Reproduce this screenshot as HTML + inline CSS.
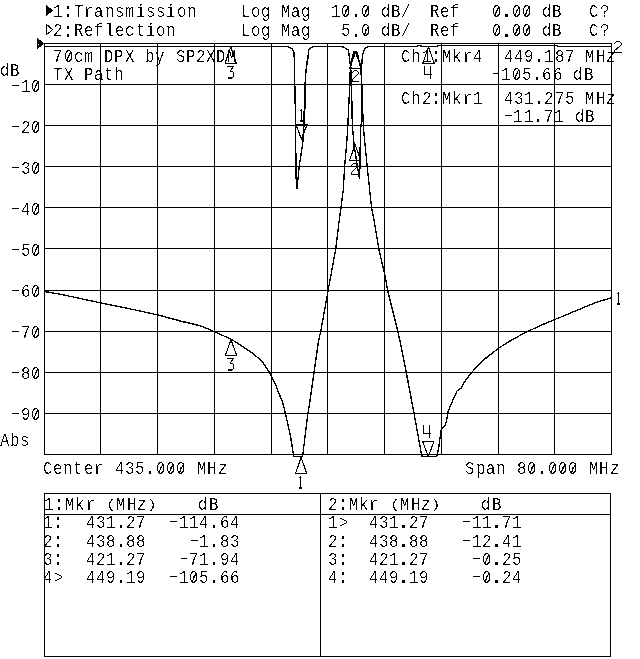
<!DOCTYPE html>
<html><head><meta charset="utf-8"><title>Network analyzer plot</title>
<style>
html,body{margin:0;padding:0;background:#fff;}
body{width:640px;height:659px;overflow:hidden;}
svg{display:block;font-family:"Liberation Mono",monospace;fill:#000;}

.ln{stroke:#000;stroke-width:1;fill:none;shape-rendering:crispEdges;}
.tl{stroke:#000;stroke-width:1.1;fill:none;stroke-linejoin:round;}
.tr{stroke-width:1.35;}
.tf{fill:#000;stroke:none;}
</style></head><body>
<svg width="640" height="659" viewBox="0 0 640 659">
<rect width="640" height="659" fill="#fff"/>
<path class="ln" d="M44.5 43 V455 M100.5 43 V455 M157.5 43 V455 M214.5 43 V455 M271.5 43 V455 M327.5 43 V455 M384.5 43 V455 M441.5 43 V455 M498.5 43 V455 M554.5 43 V455 M611.5 43 V455 M44 43.5 H612 M44 84.5 H612 M44 125.5 H612 M44 166.5 H612 M44 207.5 H612 M44 248.5 H612 M44 290.5 H612 M44 331.5 H612 M44 372.5 H612 M44 413.5 H612 M44 454.5 H612"/>
<path class="ln" d="M44.5 493.5 H610.5 V656.5 H44.5 Z M44.5 514.5 H610.5 M320.5 493.5 V656.5"/>
<defs><filter id="bw" x="0" y="0" width="640" height="659" filterUnits="userSpaceOnUse" color-interpolation-filters="sRGB"><feComponentTransfer><feFuncA type="discrete" tableValues="0 0 0 0 0 0 0 0 0 0 0 0 1 1 1 1 1 1 1 1"/></feComponentTransfer></filter><filter id="bw2" x="0" y="0" width="640" height="659" filterUnits="userSpaceOnUse" color-interpolation-filters="sRGB"><feComponentTransfer><feFuncA type="discrete" tableValues="0 1"/></feComponentTransfer></filter></defs>
<g filter="url(#bw)">
<text xml:space="preserve" transform="translate(0,17.00) scale(0.880,1)" font-size="17.80" x="60.227">1</text>
<text transform="translate(0,17.00) scale(1.250,1.150)" font-size="17.80" x="48.99">:</text>
<text xml:space="preserve" transform="translate(0,17.00) scale(0.880,1)" font-size="17.80" x="84.091 95.455 106.818 119.318 130.682 142.045 154.545 165.909 177.273 188.636 201.136 212.500">Transmission</text>
<text xml:space="preserve" transform="translate(0,36.00) scale(0.880,1)" font-size="17.80" x="60.227">2</text>
<text transform="translate(0,36.50) scale(1.250,1.150)" font-size="17.80" x="48.99">:</text>
<text xml:space="preserve" transform="translate(0,36.00) scale(0.880,1)" font-size="17.80" x="84.091 95.455 106.818 119.318 130.682 142.045 154.545 165.909 177.273 188.636">Reflection</text>
<text xml:space="preserve" transform="translate(0,17.00) scale(0.880,1)" font-size="17.80" x="273.864 285.227 296.591 307.955 319.318 330.682 342.045 353.409 364.773 376.136 387.500">Log Mag  10</text>
<text transform="translate(0,17.00) scale(1.250,1.150)" font-size="17.80" x="279.23">.</text>
<text xml:space="preserve" transform="translate(0,17.00) scale(0.880,1)" font-size="17.80" x="410.227 421.591 432.955 444.318 455.682">0 dB/</text>
<text xml:space="preserve" transform="translate(0,36.00) scale(0.880,1)" font-size="17.80" x="273.864 285.227 296.591 307.955 319.318 330.682 342.045 353.409 364.773 376.136 387.500">Log Mag   5</text>
<text transform="translate(0,36.50) scale(1.250,1.150)" font-size="17.80" x="279.23">.</text>
<text xml:space="preserve" transform="translate(0,36.00) scale(0.880,1)" font-size="17.80" x="410.227 421.591 432.955 444.318 455.682">0 dB/</text>
<text xml:space="preserve" transform="translate(0,17.00) scale(0.880,1)" font-size="17.80" x="488.636 500.000 511.364">Ref</text>
<text xml:space="preserve" transform="translate(0,36.00) scale(0.880,1)" font-size="17.80" x="488.636 500.000 511.364">Ref</text>
<text xml:space="preserve" transform="translate(0,17.00) scale(0.880,1)" font-size="17.80" x="559.091">0</text>
<text transform="translate(0,17.00) scale(1.250,1.150)" font-size="17.80" x="399.71">.</text>
<text xml:space="preserve" transform="translate(0,17.00) scale(0.880,1)" font-size="17.80" x="581.818 593.182 604.545 615.909 627.273">00 dB</text>
<text xml:space="preserve" transform="translate(0,36.00) scale(0.880,1)" font-size="17.80" x="559.091">0</text>
<text transform="translate(0,36.50) scale(1.250,1.150)" font-size="17.80" x="399.71">.</text>
<text xml:space="preserve" transform="translate(0,36.00) scale(0.880,1)" font-size="17.80" x="581.818 593.182 604.545 615.909 627.273">00 dB</text>
<text xml:space="preserve" transform="translate(0,17.00) scale(0.880,1)" font-size="17.80" x="669.318 681.818">C?</text>
<text xml:space="preserve" transform="translate(0,36.00) scale(0.880,1)" font-size="17.80" x="669.318 681.818">C?</text>
<text xml:space="preserve" transform="translate(0,62.00) scale(0.880,1)" font-size="17.80" x="60.227 72.727 84.091 95.455 106.818 118.182 129.545 142.045 153.409 164.773 176.136 188.636 200.000 211.364 222.727 234.091 245.455 257.955">70cm DPX by SP2XDM</text>
<text xml:space="preserve" transform="translate(0,80.00) scale(0.880,1)" font-size="17.80" x="60.227 72.727 84.091 95.455 106.818 118.182 129.545">TX Path</text>
<text xml:space="preserve" transform="translate(0,62.00) scale(0.880,1)" font-size="17.80" x="455.682 467.045 479.545">Ch1</text>
<text transform="translate(0,62.20) scale(1.250,1.150)" font-size="17.80" x="343.63">:</text>
<text xml:space="preserve" transform="translate(0,62.00) scale(0.880,1)" font-size="17.80" x="502.273 513.636 526.136 537.500">Mkr4</text>
<text xml:space="preserve" transform="translate(0,62.00) scale(0.880,1)" font-size="17.80" x="572.727 584.091 595.455">449</text>
<text transform="translate(0,62.20) scale(1.250,1.150)" font-size="17.80" x="425.63">.</text>
<text xml:space="preserve" transform="translate(0,62.00) scale(0.880,1)" font-size="17.80" x="618.182 630.682 642.045 653.409 664.773 677.273 688.636">187 MHz</text>
<text transform="translate(0,79.00) scale(1.450,1.000)" font-size="17.80" x="336.70">-</text>
<text xml:space="preserve" transform="translate(0,80.00) scale(0.880,1)" font-size="17.80" x="569.318 581.818 593.182">105</text>
<text transform="translate(0,80.20) scale(1.250,1.150)" font-size="17.80" x="423.95">.</text>
<text xml:space="preserve" transform="translate(0,80.00) scale(0.880,1)" font-size="17.80" x="615.909 628.409 639.773 651.136 663.636">66 dB</text>
<text xml:space="preserve" transform="translate(0,104.00) scale(0.880,1)" font-size="17.80" x="455.682 467.045 479.545">Ch2</text>
<text transform="translate(0,103.90) scale(1.250,1.150)" font-size="17.80" x="343.63">:</text>
<text xml:space="preserve" transform="translate(0,104.00) scale(0.880,1)" font-size="17.80" x="502.273 513.636 526.136 537.500">Mkr1</text>
<text xml:space="preserve" transform="translate(0,104.00) scale(0.880,1)" font-size="17.80" x="572.727 584.091 595.455">431</text>
<text transform="translate(0,103.90) scale(1.250,1.150)" font-size="17.80" x="425.63">.</text>
<text xml:space="preserve" transform="translate(0,104.00) scale(0.880,1)" font-size="17.80" x="618.182 630.682 642.045 653.409 664.773 677.273 688.636">275 MHz</text>
<text transform="translate(0,120.70) scale(1.450,1.000)" font-size="17.80" x="345.11">-</text>
<text xml:space="preserve" transform="translate(0,122.00) scale(0.880,1)" font-size="17.80" x="582.955 595.455">11</text>
<text transform="translate(0,121.90) scale(1.250,1.150)" font-size="17.80" x="425.23">.</text>
<text xml:space="preserve" transform="translate(0,122.00) scale(0.880,1)" font-size="17.80" x="618.182 629.545 640.909 653.409 664.773">71 dB</text>
<text xml:space="preserve" transform="translate(0,76.00) scale(0.880,1)" font-size="17.80" x="0.000 11.364">dB</text>
<text transform="translate(0,90.50) scale(1.450,1.000)" font-size="17.80" x="5.25">-</text>
<text xml:space="preserve" transform="translate(0,92.00) scale(0.880,1)" font-size="17.80" x="23.864 35.227">10</text>
<text transform="translate(0,131.53) scale(1.450,1.000)" font-size="17.80" x="5.25">-</text>
<text xml:space="preserve" transform="translate(0,133.00) scale(0.880,1)" font-size="17.80" x="23.864 35.227">20</text>
<text transform="translate(0,172.56) scale(1.450,1.000)" font-size="17.80" x="5.25">-</text>
<text xml:space="preserve" transform="translate(0,174.00) scale(0.880,1)" font-size="17.80" x="23.864 35.227">30</text>
<text transform="translate(0,213.59) scale(1.450,1.000)" font-size="17.80" x="5.25">-</text>
<text xml:space="preserve" transform="translate(0,215.00) scale(0.880,1)" font-size="17.80" x="23.864 35.227">40</text>
<text transform="translate(0,254.62) scale(1.450,1.000)" font-size="17.80" x="5.25">-</text>
<text xml:space="preserve" transform="translate(0,256.00) scale(0.880,1)" font-size="17.80" x="23.864 35.227">50</text>
<text transform="translate(0,295.65) scale(1.450,1.000)" font-size="17.80" x="5.25">-</text>
<text xml:space="preserve" transform="translate(0,297.00) scale(0.880,1)" font-size="17.80" x="23.864 35.227">60</text>
<text transform="translate(0,336.68) scale(1.450,1.000)" font-size="17.80" x="5.25">-</text>
<text xml:space="preserve" transform="translate(0,338.00) scale(0.880,1)" font-size="17.80" x="23.864 35.227">70</text>
<text transform="translate(0,377.71) scale(1.450,1.000)" font-size="17.80" x="5.25">-</text>
<text xml:space="preserve" transform="translate(0,379.00) scale(0.880,1)" font-size="17.80" x="23.864 35.227">80</text>
<text transform="translate(0,418.74) scale(1.450,1.000)" font-size="17.80" x="5.25">-</text>
<text xml:space="preserve" transform="translate(0,420.00) scale(0.880,1)" font-size="17.80" x="23.864 35.227">90</text>
<text xml:space="preserve" transform="translate(0,446.00) scale(0.880,1)" font-size="17.80" x="0.000 11.364 22.727">Abs</text>
<text xml:space="preserve" transform="translate(0,474.00) scale(0.880,1)" font-size="17.80" x="48.864 60.227 71.591 82.955 95.455 106.818 118.182 130.682 142.045 153.409">Center 435</text>
<text transform="translate(0,474.20) scale(1.250,1.150)" font-size="17.80" x="114.63">.</text>
<text xml:space="preserve" transform="translate(0,474.00) scale(0.880,1)" font-size="17.80" x="177.273 188.636 200.000 212.500 223.864 235.227 247.727">000 MHz</text>
<text xml:space="preserve" transform="translate(0,474.00) scale(0.880,1)" font-size="17.80" x="528.409 540.909 552.273 563.636 576.136 587.500 598.864">Span 80</text>
<text transform="translate(0,474.20) scale(1.250,1.150)" font-size="17.80" x="428.19">.</text>
<text xml:space="preserve" transform="translate(0,474.00) scale(0.880,1)" font-size="17.80" x="622.727 634.091 645.455 657.955 669.318 680.682 693.182">000 MHz</text>
<text xml:space="preserve" transform="translate(0,510.00) scale(0.880,1)" font-size="17.80" x="50.000">1</text>
<text transform="translate(0,510.20) scale(1.250,1.150)" font-size="17.80" x="41.87">:</text>
<text xml:space="preserve" transform="translate(0,510.00) scale(0.880,1)" font-size="17.80" x="73.864 85.227 97.727 109.091">Mkr </text>
<text transform="translate(0,507.70) scale(0.950,0.740)" font-size="17.80" x="111.69">(</text>
<text xml:space="preserve" transform="translate(0,510.00) scale(0.880,1)" font-size="17.80" x="131.818 144.318 155.682">MHz</text>
<text transform="translate(0,507.70) scale(0.950,0.740)" font-size="17.80" x="154.38">)</text>
<text xml:space="preserve" transform="translate(0,510.00) scale(0.880,1)" font-size="17.80" x="225.000 237.500">dB</text>
<text xml:space="preserve" transform="translate(0,510.00) scale(0.880,1)" font-size="17.80" x="372.727">2</text>
<text transform="translate(0,510.20) scale(1.250,1.150)" font-size="17.80" x="268.99">:</text>
<text xml:space="preserve" transform="translate(0,510.00) scale(0.880,1)" font-size="17.80" x="396.591 407.955 419.318 431.818">Mkr </text>
<text transform="translate(0,507.70) scale(0.950,0.740)" font-size="17.80" x="410.54">(</text>
<text xml:space="preserve" transform="translate(0,510.00) scale(0.880,1)" font-size="17.80" x="454.545 467.045 478.409">MHz</text>
<text transform="translate(0,507.70) scale(0.950,0.740)" font-size="17.80" x="453.22">)</text>
<text xml:space="preserve" transform="translate(0,510.00) scale(0.880,1)" font-size="17.80" x="546.591 559.091">dB</text>
<text xml:space="preserve" transform="translate(0,528.00) scale(0.880,1)" font-size="17.80" x="48.864">1</text>
<text transform="translate(0,528.20) scale(1.250,1.150)" font-size="17.80" x="41.15">:</text>
<text xml:space="preserve" transform="translate(0,528.00) scale(0.880,1)" font-size="17.80" x="97.727 109.091 120.455">431</text>
<text transform="translate(0,528.20) scale(1.250,1.150)" font-size="17.80" x="91.23">.</text>
<text xml:space="preserve" transform="translate(0,528.00) scale(0.880,1)" font-size="17.80" x="143.182 154.545">27</text>
<text transform="translate(0,527.00) scale(1.450,1.000)" font-size="17.80" x="114.49">-</text>
<text xml:space="preserve" transform="translate(0,528.00) scale(0.880,1)" font-size="17.80" x="203.409 214.773 226.136">114</text>
<text transform="translate(0,528.20) scale(1.250,1.150)" font-size="17.80" x="165.87">.</text>
<text xml:space="preserve" transform="translate(0,528.00) scale(0.880,1)" font-size="17.80" x="250.000 261.364">64</text>
<text xml:space="preserve" transform="translate(0,547.00) scale(0.880,1)" font-size="17.80" x="48.864">2</text>
<text transform="translate(0,546.70) scale(1.250,1.150)" font-size="17.80" x="41.15">:</text>
<text xml:space="preserve" transform="translate(0,547.00) scale(0.880,1)" font-size="17.80" x="97.727 109.091 120.455">438</text>
<text transform="translate(0,546.70) scale(1.250,1.150)" font-size="17.80" x="91.23">.</text>
<text xml:space="preserve" transform="translate(0,547.00) scale(0.880,1)" font-size="17.80" x="143.182 154.545">88</text>
<text transform="translate(0,545.50) scale(1.450,1.000)" font-size="17.80" x="128.56">-</text>
<text xml:space="preserve" transform="translate(0,547.00) scale(0.880,1)" font-size="17.80" x="226.136">1</text>
<text transform="translate(0,546.70) scale(1.250,1.150)" font-size="17.80" x="165.87">.</text>
<text xml:space="preserve" transform="translate(0,547.00) scale(0.880,1)" font-size="17.80" x="250.000 261.364">83</text>
<text xml:space="preserve" transform="translate(0,565.00) scale(0.880,1)" font-size="17.80" x="48.864">3</text>
<text transform="translate(0,565.00) scale(1.250,1.150)" font-size="17.80" x="41.15">:</text>
<text xml:space="preserve" transform="translate(0,565.00) scale(0.880,1)" font-size="17.80" x="97.727 109.091 120.455">421</text>
<text transform="translate(0,565.00) scale(1.250,1.150)" font-size="17.80" x="91.23">.</text>
<text xml:space="preserve" transform="translate(0,565.00) scale(0.880,1)" font-size="17.80" x="143.182 154.545">27</text>
<text transform="translate(0,563.80) scale(1.450,1.000)" font-size="17.80" x="121.53">-</text>
<text xml:space="preserve" transform="translate(0,565.00) scale(0.880,1)" font-size="17.80" x="214.773 226.136">71</text>
<text transform="translate(0,565.00) scale(1.250,1.150)" font-size="17.80" x="165.87">.</text>
<text xml:space="preserve" transform="translate(0,565.00) scale(0.880,1)" font-size="17.80" x="250.000 261.364">94</text>
<text xml:space="preserve" transform="translate(0,583.00) scale(0.880,1)" font-size="17.80" x="48.864 61.364">4&gt;</text>
<text xml:space="preserve" transform="translate(0,583.00) scale(0.880,1)" font-size="17.80" x="97.727 109.091 120.455">449</text>
<text transform="translate(0,583.20) scale(1.250,1.150)" font-size="17.80" x="91.23">.</text>
<text xml:space="preserve" transform="translate(0,583.00) scale(0.880,1)" font-size="17.80" x="143.182 154.545">19</text>
<text transform="translate(0,582.00) scale(1.450,1.000)" font-size="17.80" x="114.49">-</text>
<text xml:space="preserve" transform="translate(0,583.00) scale(0.880,1)" font-size="17.80" x="203.409 214.773 226.136">105</text>
<text transform="translate(0,583.20) scale(1.250,1.150)" font-size="17.80" x="165.87">.</text>
<text xml:space="preserve" transform="translate(0,583.00) scale(0.880,1)" font-size="17.80" x="250.000 261.364">66</text>
<text xml:space="preserve" transform="translate(0,528.00) scale(0.880,1)" font-size="17.80" x="372.727 385.227">1&gt;</text>
<text xml:space="preserve" transform="translate(0,528.00) scale(0.880,1)" font-size="17.80" x="419.318 430.682 442.045">431</text>
<text transform="translate(0,528.20) scale(1.250,1.150)" font-size="17.80" x="317.35">.</text>
<text xml:space="preserve" transform="translate(0,528.00) scale(0.880,1)" font-size="17.80" x="464.773 476.136">27</text>
<text transform="translate(0,527.00) scale(1.450,1.000)" font-size="17.80" x="316.59">-</text>
<text xml:space="preserve" transform="translate(0,528.00) scale(0.880,1)" font-size="17.80" x="536.364 547.727">11</text>
<text transform="translate(0,528.20) scale(1.250,1.150)" font-size="17.80" x="391.79">.</text>
<text xml:space="preserve" transform="translate(0,528.00) scale(0.880,1)" font-size="17.80" x="570.455 581.818">71</text>
<text xml:space="preserve" transform="translate(0,547.00) scale(0.880,1)" font-size="17.80" x="372.727">2</text>
<text transform="translate(0,546.70) scale(1.250,1.150)" font-size="17.80" x="269.15">:</text>
<text xml:space="preserve" transform="translate(0,547.00) scale(0.880,1)" font-size="17.80" x="419.318 430.682 442.045">438</text>
<text transform="translate(0,546.70) scale(1.250,1.150)" font-size="17.80" x="317.35">.</text>
<text xml:space="preserve" transform="translate(0,547.00) scale(0.880,1)" font-size="17.80" x="464.773 476.136">88</text>
<text transform="translate(0,545.50) scale(1.450,1.000)" font-size="17.80" x="316.59">-</text>
<text xml:space="preserve" transform="translate(0,547.00) scale(0.880,1)" font-size="17.80" x="536.364 547.727">12</text>
<text transform="translate(0,546.70) scale(1.250,1.150)" font-size="17.80" x="391.79">.</text>
<text xml:space="preserve" transform="translate(0,547.00) scale(0.880,1)" font-size="17.80" x="570.455 581.818">41</text>
<text xml:space="preserve" transform="translate(0,565.00) scale(0.880,1)" font-size="17.80" x="372.727">3</text>
<text transform="translate(0,565.00) scale(1.250,1.150)" font-size="17.80" x="269.15">:</text>
<text xml:space="preserve" transform="translate(0,565.00) scale(0.880,1)" font-size="17.80" x="419.318 430.682 442.045">421</text>
<text transform="translate(0,565.00) scale(1.250,1.150)" font-size="17.80" x="317.35">.</text>
<text xml:space="preserve" transform="translate(0,565.00) scale(0.880,1)" font-size="17.80" x="464.773 476.136">27</text>
<text transform="translate(0,563.80) scale(1.450,1.000)" font-size="17.80" x="323.53">-</text>
<text xml:space="preserve" transform="translate(0,565.00) scale(0.880,1)" font-size="17.80" x="547.727">0</text>
<text transform="translate(0,565.00) scale(1.250,1.150)" font-size="17.80" x="391.79">.</text>
<text xml:space="preserve" transform="translate(0,565.00) scale(0.880,1)" font-size="17.80" x="570.455 581.818">25</text>
<text xml:space="preserve" transform="translate(0,583.00) scale(0.880,1)" font-size="17.80" x="372.727">4</text>
<text transform="translate(0,583.20) scale(1.250,1.150)" font-size="17.80" x="269.15">:</text>
<text xml:space="preserve" transform="translate(0,583.00) scale(0.880,1)" font-size="17.80" x="419.318 430.682 442.045">449</text>
<text transform="translate(0,583.20) scale(1.250,1.150)" font-size="17.80" x="317.35">.</text>
<text xml:space="preserve" transform="translate(0,583.00) scale(0.880,1)" font-size="17.80" x="464.773 476.136">19</text>
<text transform="translate(0,582.00) scale(1.450,1.000)" font-size="17.80" x="323.53">-</text>
<text xml:space="preserve" transform="translate(0,583.00) scale(0.880,1)" font-size="17.80" x="547.727">0</text>
<text transform="translate(0,583.20) scale(1.250,1.150)" font-size="17.80" x="391.79">.</text>
<text xml:space="preserve" transform="translate(0,583.00) scale(0.880,1)" font-size="17.80" x="570.455 581.818">24</text>
</g>
<g filter="url(#bw2)">
<polyline class="tl tr" points="44.5,46.5 288.5,46.5 289.7,47.8 292.0,48.7 293.2,51.3 294.0,52.9 294.3,59.5 294.8,84.5 295.3,110.5 295.8,150.5 296.3,188.5 296.9,188.5 298.0,178.5 299.2,166.5 301.0,154.5 302.8,142.5 303.9,125.5 303.9,111.5 305.1,108.5 305.0,84.5 305.6,76.5 306.0,69.9 306.7,66.8 307.1,61.5 308.1,57.5 308.3,50.2 309.5,49.0 311.0,47.8 313.3,46.5 342.0,46.5 343.5,47.1 346.0,48.5 348.4,50.1 349.0,54.7 349.7,61.5 350.7,67.7 351.5,84.5 352.3,125.5 352.8,130.5 354.2,146.5 356.5,160.5 359.4,178.5 359.7,178.5 360.1,150.5 360.5,130.5 361.5,120.5 361.5,84.5 361.7,67.1 362.0,60.2 362.7,54.7 364.4,49.3 366.5,47.5 368.0,46.5 417.5,46.5 417.8,45.5 421.0,45.5 421.3,46.5 437.1,46.5 437.5,45.5 557.7,45.5 558.1,46.5 611.5,46.5"/>
<polyline class="tl tr" points="44.5,291.5 62.4,294.7 100.5,302.8 130.2,308.9 158.5,315.1 180.5,321.0 200.5,325.8 215.4,332.0 231.3,339.3 243.0,346.8 253.6,354.0 255.5,355.8 261.9,361.1 266.1,367.5 269.8,372.8 272.0,377.5 275.2,383.5 278.3,391.9 281.5,399.4 283.6,405.7 285.5,414.1 287.0,420.5 290.3,435.2 293.8,456.5 302.6,456.5 307.8,414.2 310.0,400.5 318.6,340.5 320.7,331.5 328.1,290.5 335.7,248.9 339.2,220.5 341.0,207.5 343.2,190.5 344.6,166.5 346.9,140.5 347.8,125.5 349.8,84.5 350.3,67.5 350.8,63.5 352.8,55.5 353.7,51.9 357.0,51.9 358.6,58.9 360.3,65.0 361.0,70.5 361.7,84.5 363.3,125.5 364.6,140.5 367.2,166.5 369.7,190.5 371.5,207.5 374.0,220.5 378.8,248.9 385.2,276.9 387.7,290.7 397.9,332.0 399.9,340.5 407.8,380.5 414.1,413.8 421.9,456.5 436.7,456.5 438.8,447.0 440.8,431.8 441.8,428.5 444.9,425.8 446.4,421.2 448.0,412.1 450.2,406.0 453.3,399.2 457.1,390.8 461.6,387.8 464.6,381.7 471.5,372.6 480.5,362.8 485.2,358.6 499.2,347.7 511.8,339.9 527.4,331.5 539.9,325.8 554.9,319.5 577.4,310.2 596.1,302.4 611.8,297.7"/>
<path class="tl" d="M301.1 457.5 L295.4 473.8 H306.8 Z"/>
<path class="tl" d="M298.5 478.4 L300.5 476.4 V488.0 M298.3 488.0 H302.7"/>
<path class="tl" d="M355.5 52.0 L349.8 68.3 H361.2 Z"/>
<path class="tl" d="M352.5 72.5 L354.5 70.5 H356.5 L358.5 72.5 V73.6 L352.5 79.6 V81.5 H358.6"/>
<path class="tl" d="M231.0 339.5 L225.3 355.8 H236.7 Z"/>
<path class="tl" d="M227.5 358.5 H233.5 L230.0 363.2 H232.3 L233.5 364.5 V368.6 L232.3 370.0 H227.3"/>
<path class="tl" d="M428.3 456.5 L422.6 441.5 H434.0 Z"/>
<path class="tl" d="M423.5 425.3 V433.5 H431.0 M429.5 425.3 V437.5"/>
<path class="tl" d="M301.5 139.2 L295.8 124.2 H307.2 Z"/>
<path class="tl" d="M299.5 111.4 L301.5 109.4 V121.0 M299.3 121.0 H303.7"/>
<path class="tl" d="M355.1 144.5 L349.4 160.8 H360.8 Z"/>
<path class="tl" d="M351.5 165.5 L353.5 163.5 H355.5 L357.5 165.5 V166.6 L351.5 172.6 V174.5 H357.6"/>
<path class="tl" d="M230.7 47.0 L225.0 63.3 H236.4 Z"/>
<path class="tl" d="M227.5 66.5 H233.5 L230.0 71.2 H232.3 L233.5 72.5 V76.6 L232.3 78.0 H227.3"/>
<path class="tl" d="M428.5 47.0 L422.8 63.3 H434.2 Z"/>
<path class="tl" d="M424.5 66.3 V74.5 H432.0 M430.5 66.3 V78.5"/>
<path class="tl" d="M616.5 294.4 L618.5 292.4 V304.0 M616.3 304.0 H620.7"/>
<path class="tl" d="M614.5 43.5 L616.5 41.5 H619.5 L621.5 43.5 V44.6 L614.5 50.6 V52.5 H621.6"/>
<path class="tf" d="M37 37.8 L44.6 43.5 L37 49.2 Z"/>
<path class="tf" d="M46 4.8 L53.2 10.5 L46 16.2 Z"/>
<path class="tl" d="M46.5 24.5 L52.7 29.6 L46.5 34.6 Z"/>
<path class="tl" d="M344.1 15.7 L348.5 6.3"/>
<path class="tl" d="M364.1 15.7 L368.5 6.3"/>
<path class="tl" d="M364.1 35.2 L368.5 25.8"/>
<path class="tl" d="M494.6 15.7 L499.0 6.3"/>
<path class="tl" d="M514.8 15.7 L519.2 6.3"/>
<path class="tl" d="M524.9 15.7 L529.3 6.3"/>
<path class="tl" d="M494.6 35.2 L499.0 25.8"/>
<path class="tl" d="M514.8 35.2 L519.2 25.8"/>
<path class="tl" d="M524.9 35.2 L529.3 25.8"/>
<path class="tl" d="M66.3 61.2 L70.7 51.8"/>
<path class="tl" d="M514.4 78.9 L518.8 69.5"/>
<path class="tl" d="M33.8 90.4 L38.2 81.0"/>
<path class="tl" d="M33.8 131.4 L38.2 122.0"/>
<path class="tl" d="M33.8 172.5 L38.2 163.1"/>
<path class="tl" d="M33.8 213.5 L38.2 204.1"/>
<path class="tl" d="M33.8 254.5 L38.2 245.1"/>
<path class="tl" d="M33.8 295.6 L38.2 286.2"/>
<path class="tl" d="M33.8 336.6 L38.2 327.2"/>
<path class="tl" d="M33.8 377.6 L38.2 368.2"/>
<path class="tl" d="M33.8 418.6 L38.2 409.2"/>
<path class="tl" d="M158.7 472.9 L163.1 463.5"/>
<path class="tl" d="M169.0 472.9 L173.4 463.5"/>
<path class="tl" d="M179.2 472.9 L183.7 463.5"/>
<path class="tl" d="M530.0 472.9 L534.4 463.5"/>
<path class="tl" d="M550.6 472.9 L555.0 463.5"/>
<path class="tl" d="M560.9 472.9 L565.3 463.5"/>
<path class="tl" d="M571.2 472.9 L575.6 463.5"/>
<path class="tl" d="M192.0 581.9 L196.4 572.5"/>
<path class="tl" d="M484.8 563.7 L489.1 554.3"/>
<path class="tl" d="M484.8 581.9 L489.1 572.5"/>
</g>
<rect x="38" y="44" width="1" height="1" fill="#fff" shape-rendering="crispEdges"/>
</svg>
</body></html>
